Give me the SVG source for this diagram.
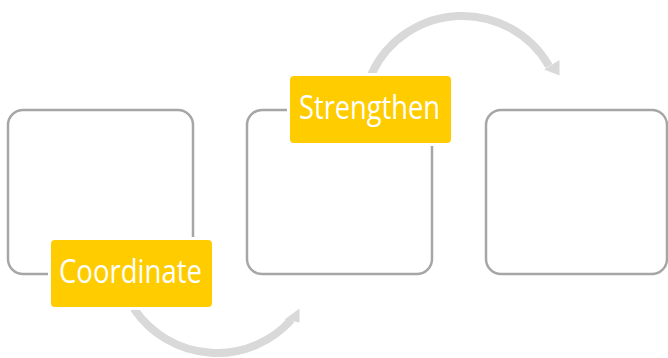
<svg xmlns="http://www.w3.org/2000/svg" width="668" height="358" viewBox="0 0 668 358">
<style>
.box{fill:#ffffff;stroke:#a6a6a6;stroke-width:2.5}
.halo{fill:#ffffff}
.lbl{fill:#ffcc00}
.txt{fill:#ffffff;font-family:"Open Sans","Noto Sans",sans-serif;font-size:32px}
.arc{fill:none;stroke:#d9d9d9;stroke-width:8}
.head{fill:#d9d9d9}
</style>
<rect width="668" height="358" fill="#ffffff"/>
<g id="box1"><rect class="box" x="8" y="110" width="185" height="164" rx="15"/></g>
<g id="box2"><rect class="box" x="247" y="110" width="185" height="164" rx="15"/></g>
<g id="box3"><rect class="box" x="486" y="110" width="181" height="164" rx="15"/></g>
<g id="connectors">
<path class="arc" d="M134.9,302 L134.9,310.1 A100,100 0 0 0 291.3,319.9"/>
<polygon class="head" points="299.5,308.5 284.5,319.5 299.5,322.5"/>
<path class="arc" d="M372,80 L372,73 A100,100 0 0 1 549,66"/>
<polygon class="head" points="559.5,75.5 544,69.5 559.5,60"/>
</g>
<g id="coordinate">
<rect class="halo" x="48" y="237" width="167" height="73" rx="6"/>
<rect class="lbl" x="51" y="240" width="161" height="67" rx="4"/>
<text class="txt" x="59" y="283" textLength="143" lengthAdjust="spacingAndGlyphs">Coordinate</text>
</g>
<g id="strengthen">
<rect class="halo" x="287" y="73" width="167" height="73" rx="6"/>
<rect class="lbl" x="290" y="76" width="161" height="67" rx="4"/>
<text class="txt" x="299" y="119" textLength="141" lengthAdjust="spacingAndGlyphs">Strengthen</text>
</g>
</svg>
